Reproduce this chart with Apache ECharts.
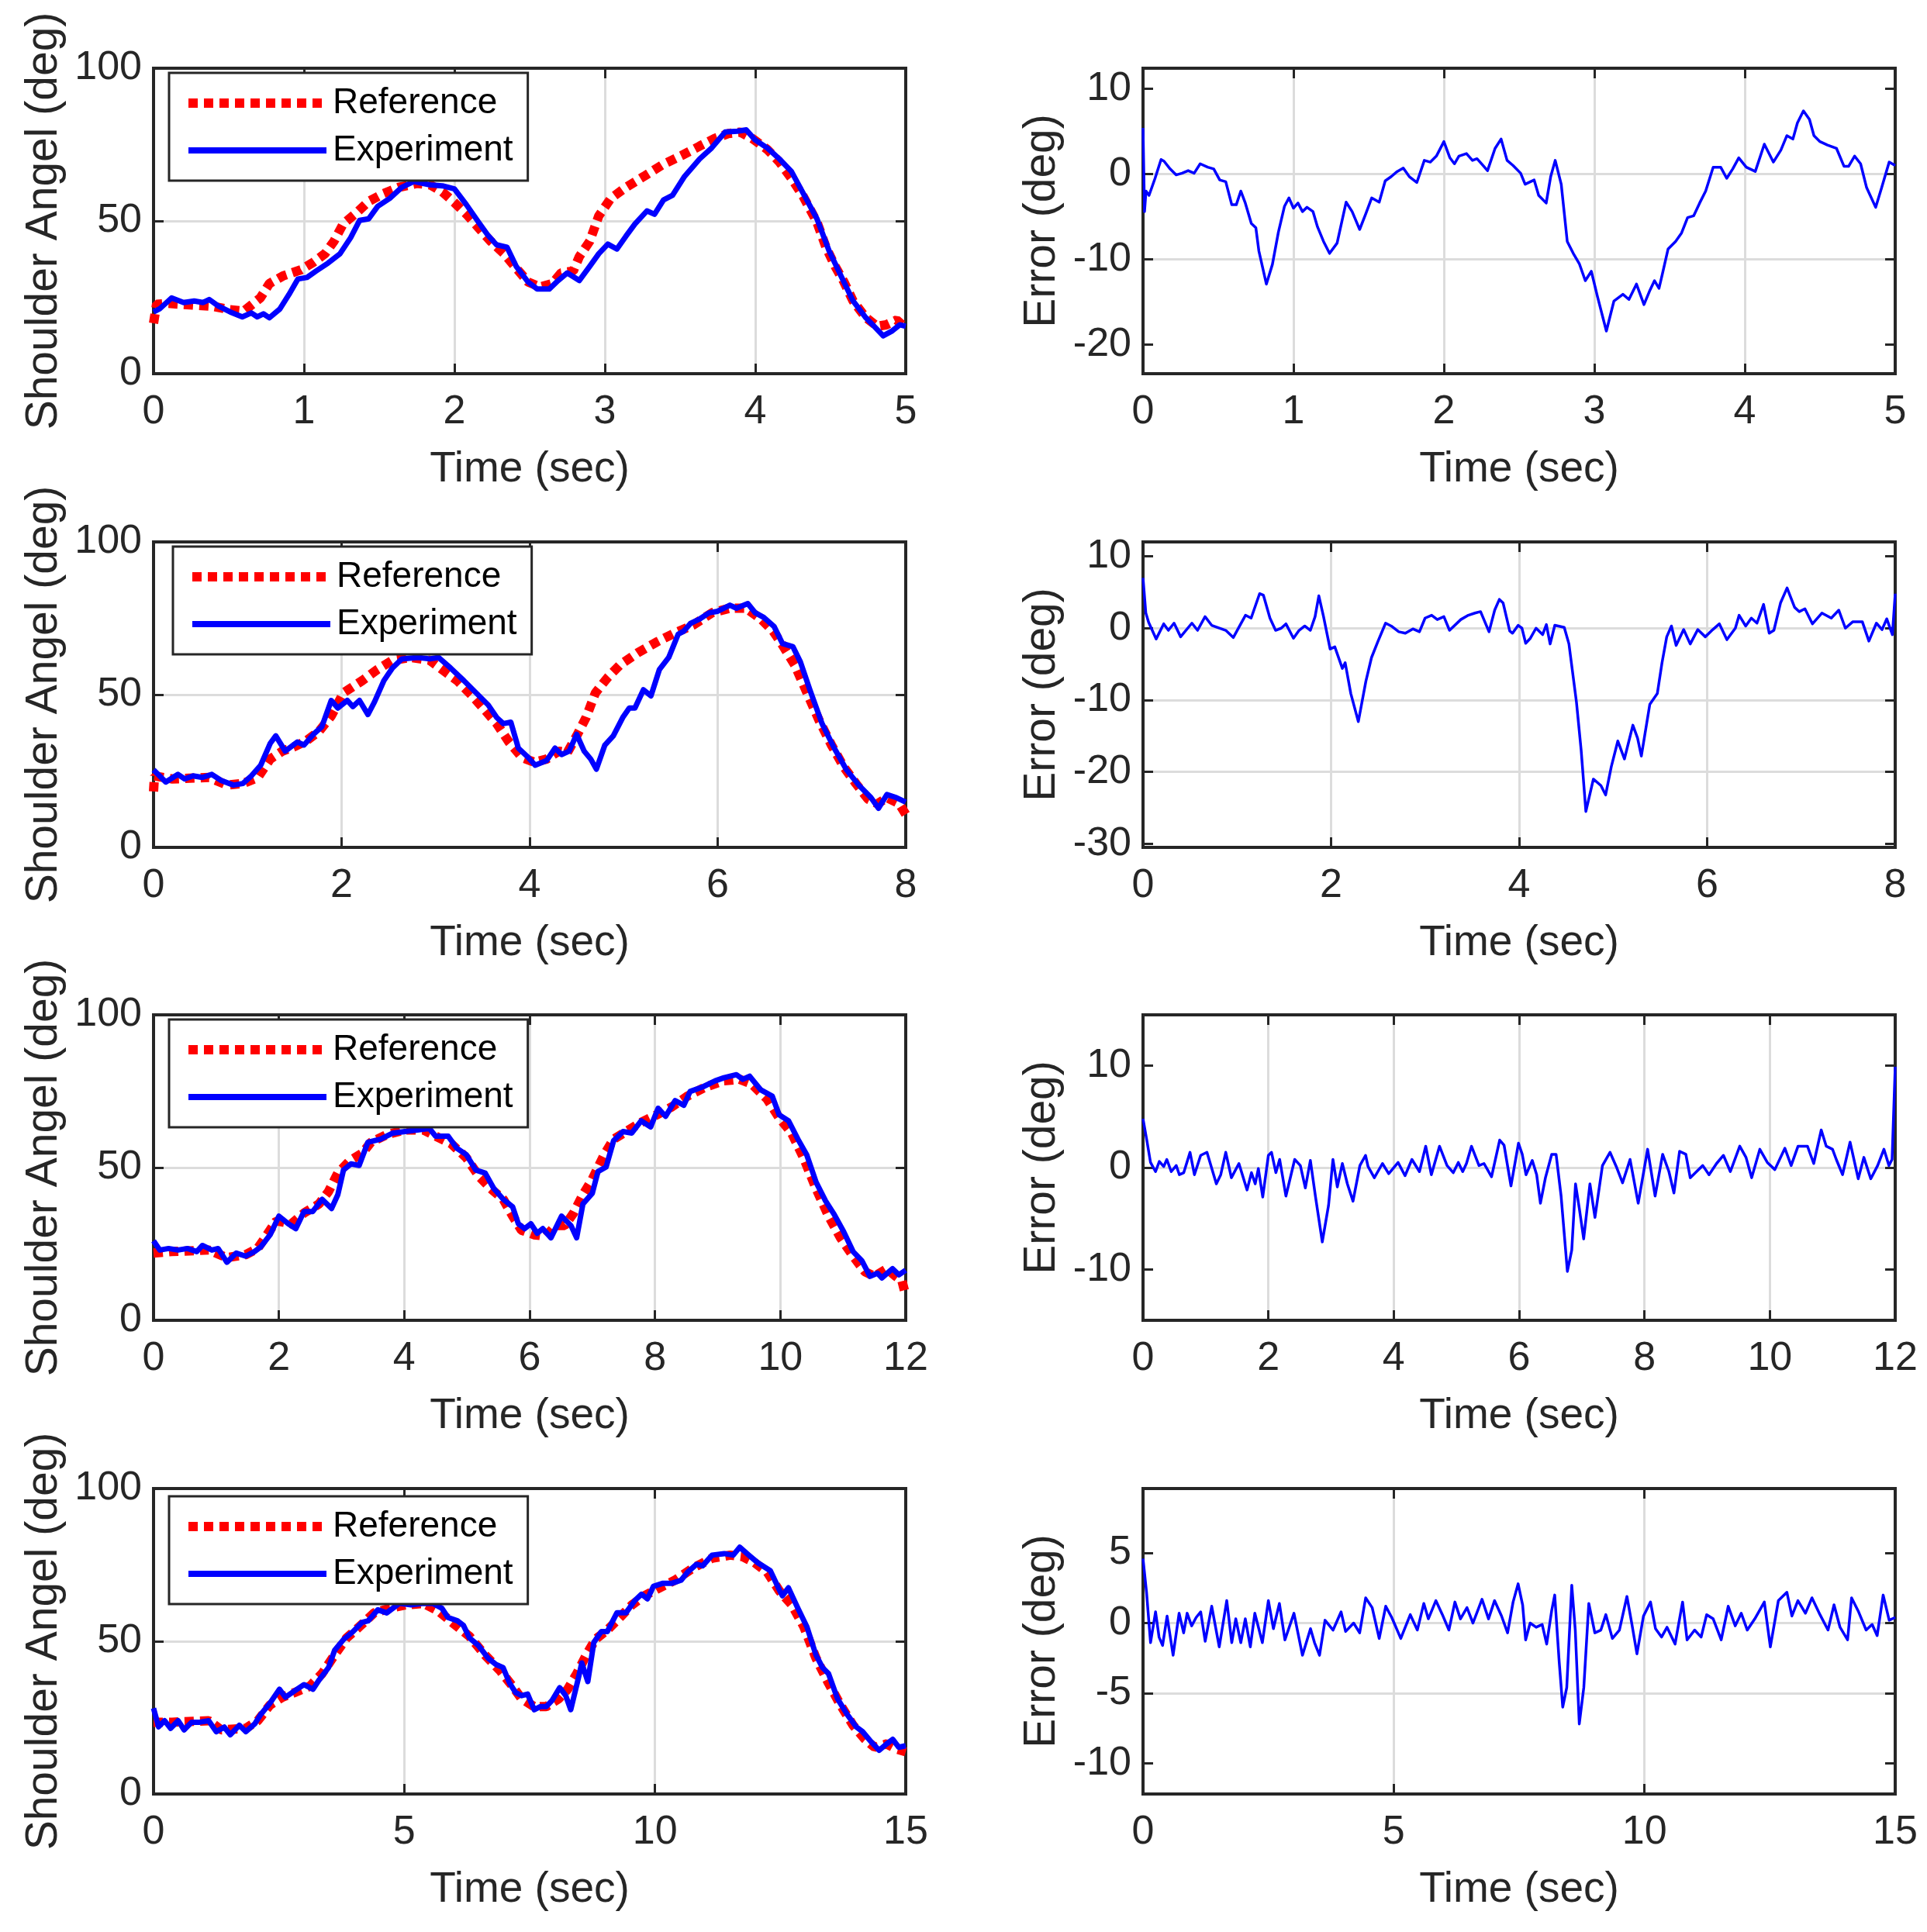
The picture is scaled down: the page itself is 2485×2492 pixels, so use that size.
<!DOCTYPE html>
<html>
<head>
<meta charset="utf-8">
<script src="https://cdn.jsdelivr.net/npm/echarts@6/dist/echarts.min.js"></script>
<style>
html, body { margin: 0; padding: 0; background: #fff; }
#main { width: 2485px; height: 2492px; }
</style>
</head>
<body>
<div id="main"></div>
<script>
// ---- data: [time (s), angle / error (deg)] ----
const ref1 = [[0,16.5],[0.02,22.7],[0.1,23],[0.4,22],[0.5,21],[0.6,20.5],[0.71,24.8],[0.77,29.5],[0.86,32],[0.98,34],[1.06,36.4],[1.14,39.3],[1.2,43.4],[1.26,49],[1.35,52.7],[1.43,56.4],[1.53,59],[1.63,61],[1.75,62.3],[1.84,61.8],[1.92,59.5],[2.0,56],[2.08,52.2],[2.16,47.8],[2.24,43.4],[2.33,39.3],[2.41,34.6],[2.49,30],[2.57,28.4],[2.65,29.5],[2.71,33],[2.79,33.6],[2.83,38.3],[2.9,43.4],[2.96,51.7],[3.04,57.4],[3.14,61],[3.26,64.6],[3.38,68.3],[3.51,71.4],[3.63,74.5],[3.73,77],[3.82,78.6],[3.9,79.1],[3.98,77],[4.08,73.4],[4.16,69.3],[4.24,64],[4.32,57.9],[4.41,49.6],[4.47,41.4],[4.53,35.2],[4.59,30],[4.65,23.8],[4.73,18.6],[4.81,15.5],[4.87,16],[4.94,17.6],[5.0,15]];
const exp1 = [[0,20.2],[0.04,21.2],[0.12,24.8],[0.2,23.3],[0.27,23.8],[0.33,23.3],[0.37,24.3],[0.43,22.2],[0.51,20.2],[0.59,18.6],[0.65,19.9],[0.69,18.6],[0.73,19.6],[0.77,18.3],[0.84,21.2],[0.9,25.9],[0.96,31],[1.02,31.5],[1.08,33.6],[1.16,36.2],[1.24,39.3],[1.31,44.5],[1.37,50.2],[1.43,50.7],[1.49,54.8],[1.57,57.4],[1.65,61],[1.73,62.9],[1.84,61.8],[1.92,61.5],[2.0,60.5],[2.08,55.3],[2.16,49.6],[2.22,45.5],[2.28,42.2],[2.35,41.4],[2.41,35.2],[2.49,30],[2.55,27.7],[2.63,27.7],[2.69,30.5],[2.75,33],[2.83,30.5],[2.9,35.2],[2.96,39.3],[3.02,42.4],[3.08,40.8],[3.14,45],[3.2,49],[3.28,53.3],[3.33,52.2],[3.39,56.9],[3.45,58.4],[3.53,64.6],[3.63,70.3],[3.71,73.9],[3.8,79.1],[3.88,79.4],[3.94,79.8],[4.0,76.5],[4.08,73.9],[4.16,70.3],[4.24,66.2],[4.32,58.9],[4.41,50.7],[4.49,40.3],[4.57,32],[4.65,23.8],[4.73,18.6],[4.79,15.5],[4.85,12.4],[4.91,14],[4.96,16],[5.0,15.5]];
const err1 = [[0,5.4],[0.01,-4.4],[0.02,-2],[0.04,-2.5],[0.08,-0.5],[0.12,1.7],[0.14,1.5],[0.18,0.6],[0.22,-0.1],[0.26,0.1],[0.3,0.4],[0.34,0.1],[0.38,1.2],[0.43,0.8],[0.47,0.6],[0.51,-0.7],[0.55,-0.9],[0.59,-3.6],[0.62,-3.6],[0.65,-2],[0.68,-3.4],[0.72,-5.8],[0.75,-6.3],[0.77,-9],[0.82,-12.9],[0.86,-10.6],[0.9,-6.8],[0.94,-3.8],[0.97,-2.8],[1.0,-4],[1.03,-3.4],[1.06,-4.4],[1.09,-3.9],[1.13,-4.4],[1.16,-6.2],[1.2,-7.9],[1.24,-9.3],[1.29,-8.1],[1.35,-3.3],[1.39,-4.4],[1.44,-6.5],[1.48,-4.7],[1.52,-2.8],[1.57,-3.3],[1.61,-0.8],[1.65,-0.3],[1.69,0.3],[1.73,0.7],[1.77,-0.3],[1.82,-1],[1.87,1.6],[1.91,1.4],[1.95,2.1],[2.0,3.8],[2.04,1.9],[2.07,1.2],[2.1,2.1],[2.15,2.4],[2.19,1.6],[2.22,1.8],[2.26,1.0],[2.29,0.4],[2.34,3.0],[2.38,4.1],[2.42,1.6],[2.46,1.0],[2.51,0.1],[2.54,-1.2],[2.6,-0.7],[2.63,-2.5],[2.68,-3.4],[2.71,-0.3],[2.74,1.6],[2.78,-1.2],[2.82,-7.9],[2.86,-9.3],[2.9,-10.5],[2.94,-12.5],[2.98,-11.4],[3.02,-14.3],[3.08,-18.4],[3.13,-14.9],[3.19,-14.1],[3.23,-14.7],[3.28,-12.9],[3.33,-15.3],[3.37,-13.6],[3.4,-12.5],[3.43,-13.4],[3.45,-11.9],[3.49,-8.8],[3.54,-7.9],[3.58,-6.9],[3.62,-5.1],[3.66,-4.9],[3.7,-3.4],[3.74,-2],[3.79,0.8],[3.84,0.8],[3.88,-0.5],[3.92,0.6],[3.96,1.9],[4.01,0.8],[4.07,0.3],[4.13,3.5],[4.19,1.4],[4.24,2.8],[4.28,4.5],[4.32,4.1],[4.35,6.0],[4.39,7.4],[4.43,6.4],[4.46,4.5],[4.5,3.8],[4.55,3.4],[4.61,3.0],[4.66,0.9],[4.69,0.9],[4.73,2.1],[4.77,1.2],[4.81,-1.6],[4.87,-3.9],[4.91,-1.6],[4.96,1.4],[5.0,1.0]];

const ref2 = [[0,18.3],[0.01,23.4],[0.2,22.4],[0.59,22.9],[0.78,20.4],[0.95,20.9],[1.11,22.9],[1.24,28.9],[1.37,31.5],[1.5,33],[1.63,35],[1.76,38],[1.89,43],[2.02,50.6],[2.22,54.6],[2.38,58.2],[2.54,61.2],[2.74,62.2],[2.94,61.2],[3.07,58.2],[3.23,54.6],[3.39,49.6],[3.52,45.1],[3.65,40.5],[3.78,34.5],[3.92,29.4],[4.05,27.9],[4.18,28.9],[4.31,31.5],[4.4,31],[4.5,36.5],[4.6,42.5],[4.7,50.6],[4.83,55.6],[4.96,59.7],[5.15,63.7],[5.35,67.2],[5.55,70.3],[5.74,72.8],[5.94,76.8],[6.13,78.3],[6.3,78.3],[6.46,74.8],[6.59,70.8],[6.69,66.2],[6.82,59.7],[6.95,50.6],[7.08,41.5],[7.21,33.5],[7.34,26.4],[7.47,20.9],[7.6,15.8],[7.7,14.3],[7.8,16.3],[7.93,14.3],[8,10.8]];
const exp2 = [[0,25.4],[0.13,21.4],[0.26,23.9],[0.33,22.4],[0.42,23.4],[0.52,22.9],[0.62,23.9],[0.72,21.9],[0.85,20.4],[0.95,20.9],[1.04,23.4],[1.14,26.9],[1.24,34],[1.3,36.5],[1.4,31.5],[1.53,34.5],[1.6,33.5],[1.7,37],[1.79,39.5],[1.89,48.1],[1.96,45.6],[2.06,48.1],[2.12,46.1],[2.19,48.1],[2.28,43.5],[2.35,47.6],[2.45,54.6],[2.54,58.7],[2.64,61.7],[2.81,62.2],[2.94,61.7],[3.03,62.2],[3.16,58.7],[3.3,54.6],[3.43,50.6],[3.56,46.6],[3.65,42.5],[3.72,40.5],[3.8,41],[3.88,32.5],[3.97,29.9],[4.06,26.9],[4.18,28.4],[4.27,32.5],[4.34,30.4],[4.42,31.5],[4.5,37],[4.58,31.5],[4.65,28.9],[4.71,25.6],[4.8,33.5],[4.89,36.5],[4.99,42.5],[5.06,45.6],[5.12,45.6],[5.21,51.6],[5.29,49.6],[5.38,58.2],[5.48,62.2],[5.58,69.8],[5.64,70.8],[5.71,73.3],[5.81,74.8],[5.91,76.8],[6.0,77.3],[6.13,79.3],[6.2,78.3],[6.32,79.8],[6.4,76.8],[6.49,75.3],[6.6,72.3],[6.69,66.7],[6.8,65.7],[6.88,60.7],[6.98,51.6],[7.11,40.5],[7.24,32.5],[7.37,25.4],[7.5,20.4],[7.63,16.3],[7.71,12.8],[7.8,17.3],[7.9,16.3],[8,14.8]];
const err2 = [[0,7.0],[0.03,2.1],[0.06,0.8],[0.14,-1.5],[0.22,0.6],[0.27,-0.3],[0.33,0.7],[0.4,-1.2],[0.52,0.7],[0.58,-0.3],[0.66,1.6],[0.73,0.4],[0.88,-0.3],[0.96,-1.3],[1.04,0.6],[1.09,1.8],[1.15,1.4],[1.24,4.8],[1.28,4.6],[1.35,1.4],[1.41,-0.3],[1.47,0],[1.52,0.6],[1.6,-1.4],[1.66,-0.3],[1.72,0.3],[1.78,-0.3],[1.83,1.6],[1.87,4.5],[1.92,1.6],[1.99,-2.9],[2.04,-2.6],[2.12,-5.6],[2.15,-4.8],[2.21,-9.1],[2.29,-13],[2.37,-7.4],[2.43,-4.1],[2.5,-1.8],[2.58,0.7],[2.64,0.3],[2.72,-0.5],[2.79,-0.7],[2.87,-0.1],[2.94,-0.5],[3.0,1.4],[3.07,1.8],[3.13,1.2],[3.2,1.6],[3.26,-0.3],[3.38,1.2],[3.46,1.8],[3.53,2.1],[3.59,2.3],[3.68,-0.5],[3.74,2.5],[3.79,4.0],[3.83,3.5],[3.9,-0.4],[3.93,-0.7],[3.99,0.4],[4.03,0],[4.07,-2.1],[4.12,-1.4],[4.18,0],[4.25,-0.9],[4.29,0.5],[4.33,-2.2],[4.38,0.4],[4.48,0.1],[4.53,-2.2],[4.61,-10.3],[4.66,-17],[4.71,-25.5],[4.79,-21],[4.87,-21.9],[4.92,-23.2],[4.98,-19.3],[5.05,-15.7],[5.12,-18.2],[5.21,-13.5],[5.26,-15.3],[5.3,-17.8],[5.39,-10.6],[5.47,-9.1],[5.52,-4.8],[5.57,-1.2],[5.62,0.3],[5.67,-2.4],[5.75,-0.2],[5.82,-2.2],[5.9,-0.2],[5.98,-1.2],[6.06,-0.2],[6.13,0.6],[6.21,-1.6],[6.3,0],[6.34,1.8],[6.41,0.3],[6.47,1.4],[6.53,0.7],[6.6,3.3],[6.66,-0.7],[6.71,-0.3],[6.78,3.5],[6.85,5.6],[6.93,2.9],[6.98,2.3],[7.04,2.7],[7.12,0.6],[7.22,2.1],[7.32,1.4],[7.4,2.5],[7.47,0],[7.55,0.9],[7.65,0.9],[7.72,-1.8],[7.8,0.7],[7.86,-0.2],[7.91,1.3],[7.97,-0.9],[8,4.8]];

const ref3 = [[0,22],[0.29,22.5],[0.88,23],[1.17,20.5],[1.47,21.5],[1.66,23.5],[1.81,28],[1.96,32.6],[2.2,31.6],[2.4,35.1],[2.64,38.1],[2.79,42.1],[2.94,48.2],[3.13,52.2],[3.33,54.7],[3.47,58.3],[3.72,60.8],[4.01,62.3],[4.31,62.3],[4.5,60.3],[4.75,57.8],[4.99,53.2],[5.19,47.2],[5.38,43.1],[5.58,39.6],[5.73,34.1],[5.87,29.5],[6.07,28],[6.26,27.5],[6.41,31],[6.56,31],[6.7,35.1],[6.85,41.1],[7.0,46.2],[7.19,54.2],[7.34,59.3],[7.54,61.8],[7.78,64.8],[8.03,67.3],[8.27,69.9],[8.52,73.4],[8.81,76.4],[9.1,78.4],[9.35,78.9],[9.54,77.4],[9.79,72.4],[9.98,66.3],[10.18,61.3],[10.37,53.2],[10.57,43.1],[10.77,34.1],[10.96,27],[11.16,21],[11.35,15.9],[11.5,14.4],[11.7,16.9],[11.84,14.4],[11.94,12.9],[12,8.1]];
const exp3 = [[0,26],[0.1,23],[0.24,23.5],[0.39,23],[0.54,23.5],[0.69,22.5],[0.78,24.5],[0.93,23],[1.03,23.5],[1.17,19],[1.32,22],[1.47,21],[1.61,22.5],[1.71,24],[1.86,28],[2.0,34.1],[2.15,31.6],[2.27,30],[2.4,35.6],[2.54,35.6],[2.69,39.6],[2.84,36.6],[2.94,41.1],[3.03,49.2],[3.15,51.2],[3.28,50.7],[3.42,58.3],[3.62,59.3],[3.82,61.3],[4.01,61.8],[4.21,62.3],[4.4,62.8],[4.5,60.3],[4.7,60.3],[4.84,56.3],[4.99,54.2],[5.14,49.2],[5.29,48.2],[5.43,43.1],[5.58,39.6],[5.73,37.1],[5.82,31.6],[5.92,30],[6.02,31.6],[6.12,28.5],[6.21,30],[6.34,27],[6.51,34.1],[6.66,31],[6.75,27],[6.85,38.1],[7.0,41.6],[7.09,48.7],[7.22,50.2],[7.34,58.8],[7.49,61.8],[7.63,61.3],[7.78,65.3],[7.93,63.3],[8.05,69.4],[8.17,66.8],[8.32,71.9],[8.46,70.4],[8.56,74.9],[8.76,76.4],[8.96,78.4],[9.1,79.4],[9.3,80.4],[9.4,78.9],[9.51,79.9],[9.69,75.4],[9.87,73.4],[9.98,67.3],[10.13,65.3],[10.28,59.3],[10.42,54.2],[10.57,45.2],[10.72,39.1],[10.86,34.6],[11.01,29],[11.16,22.5],[11.3,19.5],[11.43,14.4],[11.55,15.4],[11.62,13.9],[11.79,16.9],[11.89,14.9],[12,16.4]];
const err3 = [[0,4.8],[0.06,2.7],[0.12,0.5],[0.2,-0.4],[0.26,0.6],[0.33,0.1],[0.38,0.8],[0.45,-0.4],[0.53,0.2],[0.58,-0.7],[0.65,-0.5],[0.75,1.5],[0.82,-0.7],[0.92,1.2],[1.02,1.5],[1.17,-1.6],[1.24,-0.7],[1.32,1.5],[1.41,-1.0],[1.53,0.4],[1.66,-2.2],[1.73,-0.5],[1.79,-1.6],[1.84,-0.1],[1.91,-2.9],[2.0,1.2],[2.05,1.5],[2.12,-0.5],[2.18,0.8],[2.28,-2.8],[2.42,0.8],[2.51,0.2],[2.59,-2.0],[2.67,0.7],[2.75,-2.8],[2.86,-7.3],[2.96,-3.7],[3.03,0.8],[3.1,-1.9],[3.18,0.4],[3.26,-1.6],[3.35,-3.3],[3.46,0.2],[3.55,1.2],[3.59,0.1],[3.69,-1.0],[3.82,0.4],[3.92,-0.6],[4.07,0.5],[4.18,-0.8],[4.29,0.8],[4.41,-0.4],[4.51,2.1],[4.6,-0.7],[4.73,2.1],[4.85,0.2],[4.95,-0.5],[5.03,0.5],[5.1,-0.4],[5.16,0.4],[5.24,2.1],[5.36,0.2],[5.44,0.4],[5.56,-0.9],[5.69,2.7],[5.76,2.2],[5.87,-1.8],[5.99,2.4],[6.05,1.3],[6.11,-0.7],[6.21,0.7],[6.28,-0.7],[6.34,-3.5],[6.42,-1.0],[6.52,1.3],[6.59,1.3],[6.67,-2.8],[6.77,-10.2],[6.84,-8.1],[6.9,-1.6],[6.96,-4.0],[7.03,-7.0],[7.13,-1.6],[7.21,-4.9],[7.33,0.2],[7.45,1.5],[7.55,0.1],[7.65,-1.5],[7.77,0.8],[7.9,-3.5],[8.05,1.8],[8.17,-2.8],[8.29,1.3],[8.39,-0.4],[8.47,-2.5],[8.56,1.6],[8.66,1.3],[8.73,-1.0],[8.83,-0.4],[8.93,0.2],[9.03,-0.7],[9.15,0.4],[9.26,1.2],[9.37,-0.4],[9.52,2.1],[9.62,1.0],[9.71,-1.0],[9.84,1.8],[9.96,0.5],[10.08,-0.2],[10.24,1.9],[10.34,0.2],[10.45,2.1],[10.6,2.1],[10.7,0.4],[10.82,3.7],[10.9,2.1],[11.0,1.8],[11.06,0.8],[11.16,-0.7],[11.28,2.5],[11.41,-1.1],[11.5,1.0],[11.61,-1.1],[11.72,0.2],[11.82,1.8],[11.9,0.2],[11.95,0.8],[12,9.9]];

const ref4 = [[0,23.5],[0.37,23.5],[1.1,24],[1.35,21],[1.84,21.5],[2.08,24],[2.32,29.1],[2.57,31.7],[2.81,33.2],[3.12,35.3],[3.36,39.4],[3.61,45.5],[3.85,51.1],[4.1,54.7],[4.4,59.3],[4.71,60.8],[5.02,61.9],[5.38,62.4],[5.69,59.8],[5.99,55.7],[6.3,51.6],[6.61,45.5],[6.91,40.4],[7.16,35.3],[7.34,31.2],[7.59,28.6],[7.83,28.6],[8.08,31.2],[8.26,34.3],[8.44,39.4],[8.63,45.5],[8.81,50.6],[9.05,53.7],[9.3,57.8],[9.54,61.9],[9.79,64.9],[10.03,67],[10.4,70],[10.77,74.1],[11.14,77.2],[11.5,78.2],[11.75,77.7],[11.99,75.7],[12.24,72.6],[12.48,66.5],[12.73,61.9],[12.97,54.7],[13.21,44.5],[13.46,36.3],[13.7,29.1],[13.95,22.5],[14.19,17.9],[14.38,15.3],[14.62,16.4],[14.8,14.8],[15,13.8]];
const exp4 = [[0,28.1],[0.1,22],[0.22,24],[0.34,21.5],[0.49,24],[0.61,21],[0.76,23.5],[0.92,23.5],[1.1,24],[1.25,20.4],[1.41,21.9],[1.53,19.4],[1.71,22.5],[1.84,20.4],[2.02,23],[2.14,26.1],[2.32,29.7],[2.51,34.3],[2.63,31.7],[2.81,33.7],[3.0,35.8],[3.18,34.3],[3.3,37.3],[3.49,41.4],[3.61,47],[3.79,50.6],[3.98,53.2],[4.16,56.2],[4.28,56.7],[4.47,60.3],[4.65,59.3],[4.9,62.4],[5.14,61.9],[5.38,62.4],[5.57,62.4],[5.75,60.8],[5.87,57.8],[6.06,56.7],[6.18,55.2],[6.3,51.1],[6.48,48.6],[6.67,44.5],[6.83,42.4],[6.97,41.4],[7.1,36.3],[7.22,33.2],[7.34,32.2],[7.46,32.7],[7.59,27.6],[7.71,28.6],[7.83,28.6],[7.95,30.7],[8.1,34.8],[8.22,32.2],[8.32,27.6],[8.47,37.8],[8.54,42.9],[8.66,36.8],[8.78,49.6],[8.93,53.2],[9.05,53.2],[9.24,59.3],[9.42,59.3],[9.6,63.4],[9.73,65.4],[9.85,63.9],[9.97,68],[10.16,69],[10.34,69],[10.52,70],[10.65,72.6],[10.83,75.2],[10.95,74.7],[11.14,78.2],[11.38,78.7],[11.56,78.2],[11.69,80.8],[11.87,78.2],[12.05,75.7],[12.3,73.1],[12.46,67.5],[12.54,64.9],[12.66,67.5],[12.85,60.8],[13.03,54.7],[13.21,45.5],[13.34,41.4],[13.46,39.4],[13.64,31.2],[13.83,26.1],[14.01,22],[14.14,20.4],[14.32,16.9],[14.47,14.3],[14.62,16.4],[14.74,17.9],[14.86,15.3],[15,15.8]];
const err4 = [[0,4.6],[0.07,2.2],[0.15,-1.4],[0.25,0.8],[0.32,-1.0],[0.39,-1.6],[0.48,0.5],[0.6,-2.3],[0.72,0.7],[0.81,-0.7],[0.88,0.7],[0.97,-0.2],[1.06,0.4],[1.15,0.8],[1.24,-1.3],[1.37,1.2],[1.52,-1.7],[1.67,1.6],[1.77,-1.4],[1.85,0.3],[1.95,-1.4],[2.04,0.3],[2.14,-1.7],[2.23,0.7],[2.38,-1.4],[2.5,1.6],[2.6,-0.4],[2.72,1.4],[2.83,-1.2],[3.01,0.7],[3.18,-2.3],[3.34,-0.4],[3.42,-1.4],[3.52,-2.3],[3.63,0.2],[3.79,-0.5],[3.95,0.8],[4.04,-0.6],[4.2,0],[4.32,-0.7],[4.44,1.8],[4.57,1.1],[4.71,-1.1],[4.84,1.2],[4.96,0.4],[5.14,-1.1],[5.33,0.6],[5.47,-0.5],[5.6,1.4],[5.69,0.3],[5.84,1.6],[5.97,0.6],[6.1,-0.5],[6.22,1.5],[6.33,0.3],[6.46,1.1],[6.58,0],[6.76,1.7],[6.89,0.3],[7.01,1.6],[7.15,0.5],[7.27,-0.7],[7.38,1.5],[7.48,2.8],[7.57,1.3],[7.63,-1.2],[7.72,0],[7.84,-0.3],[7.96,-0.1],[8.05,-1.5],[8.15,0.9],[8.21,2.0],[8.3,-2.8],[8.37,-6.0],[8.45,-4.6],[8.55,2.7],[8.62,-0.5],[8.7,-7.2],[8.79,-4.6],[8.89,1.4],[9.01,-0.7],[9.13,-0.5],[9.23,0.6],[9.36,-1.1],[9.5,-0.5],[9.65,1.9],[9.75,-0.1],[9.85,-2.2],[9.98,0.5],[10.12,1.5],[10.22,-0.4],[10.34,-1.0],[10.45,-0.3],[10.61,-1.5],[10.76,1.5],[10.85,-1.2],[11.0,-0.5],[11.13,-1.0],[11.24,0.6],[11.37,0.3],[11.53,-1.2],[11.67,1.2],[11.81,-0.2],[11.93,0.7],[12.05,-0.5],[12.2,0.3],[12.39,1.5],[12.51,-1.7],[12.67,1.6],[12.84,2.2],[12.94,0.5],[13.06,1.6],[13.21,0.7],[13.34,1.8],[13.5,0.6],[13.66,-0.5],[13.78,1.3],[13.9,-0.3],[14.05,-1.2],[14.13,1.8],[14.27,0.8],[14.42,-0.5],[14.54,-0.1],[14.64,-0.9],[14.76,2.0],[14.88,0.2],[15,0.4]];

// ---- axes ----
const timeMax = [5, 8, 12, 15];
const timeStep = [1, 2, 2, 5];
const angleMax = 100, angleStep = 50;
const errMin = [-23.4, -30.5, -15, -12.2];
const errMax = [12.4, 12, 15, 9.6];
const errTicks = [[-20, -10, 0, 10], [-30, -20, -10, 0, 10], [-10, 0, 10], [-10, -5, 0, 5]];

const refSeries = [ref1, ref2, ref3, ref4];
const expSeries = [exp1, exp2, exp3, exp4];
const errSeries = [err1, err2, err3, err4];

// ---- layout ----
const rowTop = [88, 699, 1309, 1920];
const colLeft = [198, 1474];
const plotW = 970, plotH = 394;
const legendDx = [20, 25, 20, 20];
const legendDy = [6, 6, 6, 10];

const ink = '#262626';
const font = '"Liberation Sans", Arial, Helvetica, sans-serif';
const noLine = { show: false, onZero: false };
const gridLine = { show: true, showMinLine: false, showMaxLine: false, lineStyle: { color: '#dcdcdc', width: 3 } };
const tick = { show: true, inside: true, length: 13, lineStyle: { color: ink, width: 3 } };
const tickLabel = { color: ink, fontSize: 52, fontFamily: font, showMinLabel: true, showMaxLabel: true };
const xNameStyle = { color: ink, fontSize: 55, fontFamily: font };
const yNameStyle = { color: ink, fontSize: 57, fontFamily: font };

const grids = [], xAxes = [], yAxes = [], series = [], legends = [];

for (let r = 0; r < 4; r++) {
  for (let c = 0; c < 2; c++) {
    const g = grids.length;
    grids.push({
      left: colLeft[c], top: rowTop[r], width: plotW, height: plotH,
      show: true, borderColor: ink, borderWidth: 4, backgroundColor: 'transparent',
      outerBoundsMode: 'none'
    });
    const xBase = { type: 'value', gridIndex: g, min: 0, max: timeMax[r], interval: timeStep[r], axisLine: noLine };
    xAxes.push(Object.assign({}, xBase, {
      position: 'bottom', axisTick: tick, splitLine: gridLine,
      axisLabel: Object.assign({ margin: 24 }, tickLabel),
      name: 'Time (sec)', nameLocation: 'middle', nameGap: 96, nameMoveOverlap: false, nameTextStyle: xNameStyle
    }));
    xAxes.push(Object.assign({}, xBase, {
      position: 'top', axisTick: tick, splitLine: { show: false }, axisLabel: { show: false }
    }));

    let yBase;
    if (c === 0) {
      yBase = { type: 'value', gridIndex: g, min: 0, max: angleMax, interval: angleStep, axisLine: noLine };
    } else {
      yBase = { type: 'value', gridIndex: g, min: errMin[r], max: errMax[r], axisLine: noLine };
    }
    const yTick = c === 0 ? tick : Object.assign({ customValues: errTicks[r] }, tick);
    yAxes.push(Object.assign({}, yBase, {
      position: 'left', axisTick: yTick, splitLine: gridLine,
      axisLabel: Object.assign({ margin: 15 }, tickLabel, c === 0 ? {} : { customValues: errTicks[r] }),
      name: c === 0 ? 'Shoulder Angel (deg)' : 'Error (deg)',
      nameLocation: 'middle', nameGap: c === 0 ? 112 : 101, nameMoveOverlap: false, nameTextStyle: yNameStyle
    }));
    yAxes.push(Object.assign({}, yBase, {
      position: 'right', axisTick: yTick, splitLine: { show: false }, axisLabel: { show: false }
    }));

    const xi = 2 * g, yi = 2 * g;
    if (c === 0) {
      series.push({
        type: 'line', name: 'Reference', xAxisIndex: xi, yAxisIndex: yi, data: refSeries[r],
        symbol: 'none', z: 2, itemStyle: { color: '#ff0000' },
        lineStyle: { color: '#ff0000', width: 12, type: [12, 8], cap: 'butt' }
      });
      series.push({
        type: 'line', name: 'Experiment', xAxisIndex: xi, yAxisIndex: yi, data: expSeries[r],
        symbol: 'none', z: 3, itemStyle: { color: '#0000ff' },
        lineStyle: { color: '#0000ff', width: 7, join: 'round' }
      });
      legends.push({
        orient: 'vertical', left: colLeft[0] + legendDx[r], top: rowTop[r] + legendDy[r],
        itemWidth: 178, itemHeight: 14, itemGap: 15, padding: [16, 19, 16, 19],
        borderColor: ink, borderWidth: 3, backgroundColor: '#ffffff', selectedMode: false,
        textStyle: { color: '#000', fontSize: 46, fontFamily: font, lineHeight: 46, padding: [0, 0, 0, 3] },
        data: [
          { name: 'Reference', itemStyle: { opacity: 0 }, lineStyle: { color: '#ff0000', width: 12, type: [12, 8], cap: 'butt' } },
          { name: 'Experiment', itemStyle: { opacity: 0 }, lineStyle: { color: '#0000ff', width: 8 } }
        ]
      });
    } else {
      series.push({
        type: 'line', name: 'Error', xAxisIndex: xi, yAxisIndex: yi, data: errSeries[r],
        symbol: 'none', z: 3, itemStyle: { color: '#0000ff' },
        lineStyle: { color: '#0000ff', width: 3.5, join: 'round' }
      });
    }
  }
}

const chart = echarts.init(document.getElementById('main'));
chart.setOption({
  animation: false,
  backgroundColor: '#ffffff',
  grid: grids,
  xAxis: xAxes,
  yAxis: yAxes,
  legend: legends,
  series: series
});
</script>
</body>
</html>
